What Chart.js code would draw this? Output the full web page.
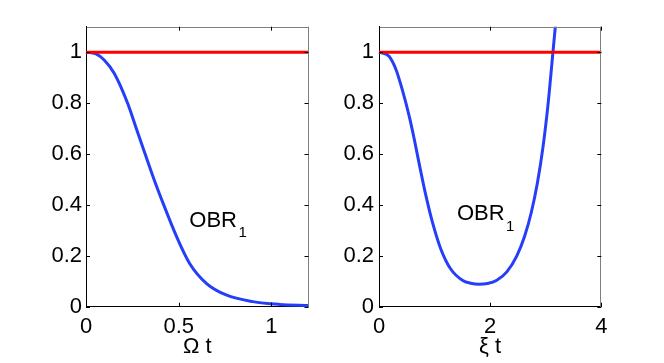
<!DOCTYPE html>
<html>
<head>
<meta charset="utf-8">
<script src="https://cdn.jsdelivr.net/npm/chart.js@4/dist/chart.umd.min.js"></script>
<style>
  html, body { margin: 0; padding: 0; background: #fff; }
  #wrap { position: relative; width: 664px; height: 363px; overflow: hidden; }
  canvas { position: absolute; top: 0; }
</style>
</head>
<body>
<div id="wrap">
  <canvas id="c1" width="332" height="363" style="left:0px"></canvas>
  <canvas id="c2" width="332" height="363" style="left:332px"></canvas>
</div>
<script>
// ---- Data ----
const leftT   = [0, 0.054, 0.098, 0.152, 0.224, 0.269, 0.318, 0.367, 0.416, 0.487, 0.559, 0.649, 0.756, 0.899, 1.043, 1.2];
const leftOBR = [1, 0.993, 0.969, 0.917, 0.800, 0.705, 0.602, 0.500, 0.406, 0.278, 0.170, 0.092, 0.046, 0.020, 0.009, 0.005];
const leftRef = [1, 1];
const leftRefT = [0, 1.2];

const rightT   = [0, 0.18, 0.30, 0.42, 0.54, 0.63, 0.72, 0.84, 0.96, 1.11, 1.29, 1.50, 1.65, 1.80, 1.95, 2.12, 2.30, 2.48, 2.62, 2.74, 2.85, 2.95, 3.045, 3.13, 3.19];
const rightOBR = [1, 0.984, 0.935, 0.852, 0.752, 0.663, 0.565, 0.440, 0.333, 0.228, 0.148, 0.104, 0.092, 0.088, 0.091, 0.104, 0.137, 0.200, 0.277, 0.370, 0.486, 0.626, 0.802, 1.0, 1.14];
const rightRef = [1, 1];
const rightRefT = [0, 4];

const yTicks = [0, 0.2, 0.4, 0.6, 0.8, 1];
const leftXTicks = [0, 0.5, 1];
const rightXTicks = [0, 2, 4];
const leftXLabel = 'Ω t';
const rightXLabel = 'ξ t';
const curveLabel = 'OBR';
const curveSub = '1';

// ---- Styles ----
const FONT = '"Liberation Sans", Arial, Helvetica, sans-serif';
const BLUE = 'rgb(36,62,250)';
const RED = 'rgb(255,0,0)';

function pts(xs, ys) { return xs.map((x, i) => ({ x: x, y: ys[i] })); }
function fmt(v) { return String(Math.round(v * 10) / 10); }

const boxPlugin = {
  id: 'matlabBox',
  afterDraw(chart, args, opts) {
    const ctx = chart.ctx;
    const a = chart.chartArea;
    const xs = chart.scales.x, ys = chart.scales.y;
    ctx.save();
    ctx.strokeStyle = '#7f7f7f';
    ctx.lineWidth = 1;
    ctx.beginPath();
    ctx.moveTo(a.left, Math.round(a.top) + 0.5);
    ctx.lineTo(a.right, Math.round(a.top) + 0.5);
    ctx.moveTo(Math.round(a.right) - 0.5, a.top);
    ctx.lineTo(Math.round(a.right) - 0.5, a.bottom);
    ctx.stroke();
    const TL = 4;
    ctx.strokeStyle = '#000';
    ctx.beginPath();
    xs.ticks.forEach(t => {
      const px = Math.round(xs.getPixelForValue(t.value)) + 0.5;
      ctx.moveTo(px, a.bottom); ctx.lineTo(px, a.bottom - TL);
      ctx.moveTo(px, a.top); ctx.lineTo(px, a.top + TL);
    });
    ys.ticks.forEach(t => {
      const py = Math.round(ys.getPixelForValue(t.value)) + 0.5;
      ctx.moveTo(a.left, py); ctx.lineTo(a.left + TL, py);
      ctx.moveTo(a.right, py); ctx.lineTo(a.right - TL, py);
    });
    ctx.stroke();
    const lx = xs.getPixelForValue(opts.labelX);
    const ly = ys.getPixelForValue(opts.labelY);
    ctx.fillStyle = '#000';
    ctx.textAlign = 'left';
    ctx.textBaseline = 'alphabetic';
    ctx.font = '22px ' + FONT;
    ctx.fillText(curveLabel, lx, ly);
    const w = ctx.measureText(curveLabel).width;
    ctx.font = '15px ' + FONT;
    ctx.fillText(curveSub, lx + w + 1.5, ly + 10.5);
    ctx.restore();
  }
};

function makeChart(id, cfg) {
  return new Chart(document.getElementById(id), {
    type: 'scatter',
    data: {
      datasets: [
        { data: pts(cfg.refT, cfg.ref), showLine: true, borderColor: RED, borderWidth: 3, pointRadius: 0, order: 0, clip: 2 },
        { data: pts(cfg.t, cfg.obr), showLine: true, borderColor: BLUE, borderWidth: 3, pointRadius: 0, order: 1,
          cubicInterpolationMode: 'monotone', clip: { left: 2, right: 2, bottom: 2, top: 0 } }
      ]
    },
    options: {
      responsive: false,
      animation: false,
      events: [],
      layout: { padding: { left: 0, top: 26.7, right: cfg.padRight, bottom: 0 } },
      plugins: {
        legend: { display: false },
        tooltip: { enabled: false },
        matlabBox: { labelX: cfg.labelX, labelY: cfg.labelY }
      },
      scales: {
        x: {
          type: 'linear', min: 0, max: cfg.xMax,
          afterBuildTicks: s => { s.ticks = cfg.xTicks.map(v => ({ value: v })); },
          afterFit: s => { s.height = 56.3; },
          grid: { display: false, drawTicks: false },
          border: { display: true, color: '#000', width: 1 },
          ticks: { padding: 7, color: '#000', font: { family: FONT, size: 22 }, callback: v => fmt(v), maxRotation: 0 },
          title: { display: true, text: cfg.xLabel, color: '#000', font: { family: FONT, size: 22 }, padding: { top: 0, bottom: 3 } }
        },
        y: {
          type: 'linear', min: 0, max: 1.1,
          afterBuildTicks: s => { s.ticks = yTicks.map(v => ({ value: v })); },
          afterFit: s => { s.width = cfg.yWidth; },
          grid: { display: false, drawTicks: false },
          border: { display: true, color: '#000', width: 1 },
          ticks: { padding: cfg.yPad, color: '#000', font: { family: FONT, size: 22 }, callback: v => fmt(v) }
        }
      }
    },
    plugins: [boxPlugin]
  });
}

makeChart('c1', {
  t: leftT, obr: leftOBR, refT: leftRefT, ref: leftRef,
  xMax: 1.2, xTicks: leftXTicks, xLabel: leftXLabel,
  yWidth: 86, padRight: 23.5, yPad: 4,
  labelX: 0.557, labelY: 0.314
});
makeChart('c2', {
  t: rightT, obr: rightOBR, refT: rightRefT, ref: rightRef,
  xMax: 4, xTicks: rightXTicks, xLabel: rightXLabel,
  yWidth: 47, padRight: 62.7, yPad: 5,
  labelX: 1.402, labelY: 0.339
});
</script>
</body>
</html>
